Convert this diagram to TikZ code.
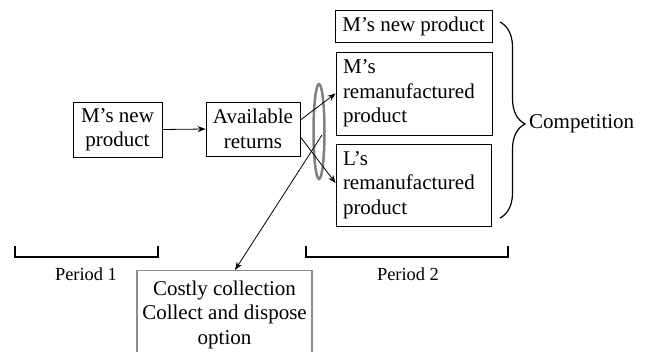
\documentclass[tikz,border=0pt]{standalone}
\usepackage{fontspec}
\setmainfont{Liberation Serif}
\usetikzlibrary{arrows.meta,decorations.pathreplacing,shapes.geometric}
\tikzset{
  box/.style={draw, line width=0.9pt, inner sep=0pt, font=\fontsize{21}{24.5}\selectfont},
  leftbox/.style={box, align=left, inner xsep=7pt},
  conn/.style={line width=0.8pt, -{Stealth[length=8pt,width=6pt]}},
  bracket/.style={line width=1.3pt},
  period/.style={font=\fontsize{18.4}{22}\selectfont},
}
\begin{document}
\begin{tikzpicture}[x=1pt, y=-1pt]
\clip (0,0) rectangle (645,351);
\fill[white] (0,0) rectangle (645,351);

% period 1 boxes
\node[box, minimum width=89pt, minimum height=55pt, align=center] (mnew) at (117.5,129.5) {M's new\\product};
\node[box, minimum width=94pt, minimum height=54pt, align=center] (avail) at (253,129) {Available\\returns};

% period 2 boxes
\node[box, minimum width=157pt, minimum height=32pt] (mtop) at (413.5,26) {M's new product};
\node[leftbox, text width=142pt, minimum height=83pt] (mrem) at (414,93.5) {M's\\remanufactured\\product};
\node[leftbox, text width=141pt, minimum height=82pt] (lrem) at (413.5,185) {L's\\remanufactured\\product};

% collected returns
\node[draw=gray, line width=2.5pt, ellipse, minimum width=11pt, minimum height=95pt, inner sep=0pt] (ring) at (319,131.5) {};

% collection option
\node[box, draw=black!45, line width=1.2pt, anchor=north, minimum width=175pt, minimum height=88pt, align=center] (cost) at (224.5,270) {Costly collection\\Collect and dispose\\option};

% connectors
\draw[conn] (mnew.east) -- (avail.west);
\draw[conn] ([yshift=9pt]avail.east) -- (mrem.west);
\draw[conn] ([yshift=-8pt]avail.east) -- ([yshift=2pt]lrem.west);
\coordinate (ringfoot) at (322,135);
\draw[conn] (ringfoot) -- ([xshift=10.5pt]cost.north);

% competition brace
\coordinate (btop) at (500,22);
\coordinate (bbot) at (500,218);
\draw[line width=1.2pt, decorate, decoration={brace, amplitude=25pt, aspect=0.52}] (btop) -- (bbot);
\node[anchor=west, font=\fontsize{21}{24.5}\selectfont, inner sep=0pt] (comp) at (529,124) {Competition};

% period brackets
\draw[bracket] (15,246) -- (15,257) -- (158,257) -- (158,246);
\node[period] (p1) at (86,274) {Period 1};
\draw[bracket] (306,246) -- (306,257) -- (508,257) -- (508,246);
\node[period] (p2) at (408,274) {Period 2};
\end{tikzpicture}
\end{document}
